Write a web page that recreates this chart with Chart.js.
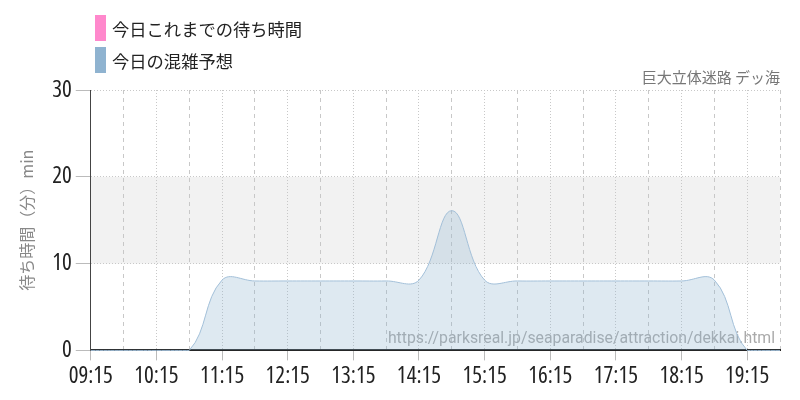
<!DOCTYPE html>
<html>
<head>
<meta charset="utf-8">
<script src="https://cdn.jsdelivr.net/npm/chart.js@4.4.1/dist/chart.umd.min.js"></script>
<style>
  html, body { margin: 0; padding: 0; background: #fff; }
  #wrap { position: relative; width: 800px; height: 400px; }
  #legend { position: absolute; left: 95px; top: 15px; font-family: 'Noto Sans CJK JP', sans-serif; font-size: 17.3px; color: #222; }
  .item { display: flex; align-items: center; height: 26px; margin-bottom: 6px; }
  .box { width: 11px; height: 26px; margin-right: 6px; }
</style>
</head>
<body>
<div id="wrap">
  <canvas id="waitChart" width="800" height="400"></canvas>
  <div id="legend"></div>
</div>
<script>
// 30分刻み
const times = ['09:15', '09:45', '10:15', '10:45', '11:15', '11:45', '12:15', '12:45',
               '13:15', '13:45', '14:15', '14:45', '15:15', '15:45', '16:15', '16:45',
               '17:15', '17:45', '18:15', '18:45', '19:15', '19:45'];
const forecast = [0, 0, 0, 0, 8.1, 8.0, 8.0, 8.0,
                  8.0, 8.0, 8.1, 16.1, 8.1, 8.0, 8.0, 8.0,
                  8.0, 8.0, 8.0, 8.1, 0, 0];
const waitedSoFar = [];
const seriesNames = ['今日これまでの待ち時間', '今日の混雑予想'];
const seriesColors = ['#ff88cc', '#8fb3d0'];
const yTicks = [0, 10, 20, 30];
const band = [10, 20];
const attractionName = '巨大立体迷路 デッ海';
const yTitle = '待ち時間（分）min';
const sourceUrl = 'https://parksreal.jp/seaparadise/attraction/dekkai.html';

// 細長い数字 (Open Sans の condensed 幅)
const numFont = { family: "'Open Sans', 'Roboto Condensed', sans-serif", size: 23, weight: 'normal condensed' };
const jpFont = "'Noto Sans CJK JP', sans-serif";

// 10〜20分の帯
const bandPlugin = {
    id: 'band',
    beforeDraw(chart) {
        const { ctx, chartArea, scales: { y } } = chart;
        const top = y.getPixelForValue(band[1]);
        const bottom = y.getPixelForValue(band[0]);
        ctx.save();
        ctx.fillStyle = '#f2f2f2';
        ctx.fillRect(chartArea.left, top, chartArea.right - chartArea.left, bottom - top);
        ctx.restore();
    }
};

const urlPlugin = {
    id: 'sourceUrl',
    beforeDatasetsDraw(chart) {
        const { ctx, chartArea } = chart;
        ctx.save();
        ctx.font = "15.8px Roboto, sans-serif";
        ctx.fillStyle = '#aaa';
        ctx.textAlign = 'right';
        ctx.textBaseline = 'alphabetic';
        ctx.fillText(sourceUrl, chartArea.right - 5, chartArea.bottom - 7);
        ctx.restore();
    }
};

const isHour = (i) => times[i] && times[i].endsWith(':15');

const chart = new Chart(document.getElementById('waitChart'), {
    type: 'line',
    data: {
        labels: times,
        datasets: [{
            label: seriesNames[0],
            data: waitedSoFar,
            borderColor: seriesColors[0],
            backgroundColor: seriesColors[0],
        }, {
            label: seriesNames[1],
            data: forecast,
            borderColor: '#a3c0d9',
            backgroundColor: 'rgba(143, 179, 208, 0.29)',
            borderWidth: 1,
            fill: 'origin',
            tension: 0.4,
            pointRadius: 0,
            clip: false,
        }],
    },
    options: {
        responsive: false,
        animation: false,
        layout: { padding: { top: 68, left: 17, right: 20, bottom: 8 } },
        plugins: {
            legend: { display: false },
            tooltip: { enabled: false },
            title: {
                display: true,
                align: 'end',
                text: attractionName,
                color: '#777',
                font: { family: jpFont, size: 15, weight: 'normal' },
                padding: { top: 0, bottom: 4 }
            }
        },
        scales: {
            x: {
                offset: false,
                border: {
                    color: '#222',
                    width: 2,
                    dash: (c) => (isHour(c.index) ? [1, 2] : [4, 4])
                },
                grid: {
                    color: '#c8c8c8',
                    tickColor: (c) => (isHour(c.index) ? '#bbb' : 'rgba(0,0,0,0)'),
                    tickLength: 10
                },
                ticks: {
                    autoSkip: false,
                    maxRotation: 0,
                    padding: 2,
                    color: '#222',
                    font: numFont,
                    callback: (v, i) => (isHour(i) ? times[i] : '')
                }
            },
            y: {
                min: yTicks[0],
                max: yTicks[yTicks.length - 1],
                border: { color: '#444', width: 1, dash: [1, 2] },
                grid: { color: '#c8c8c8', tickColor: '#bbb', tickLength: 15 },
                ticks: {
                    stepSize: 10,
                    padding: 4,
                    color: '#222',
                    font: numFont
                },
                title: {
                    display: true,
                    text: yTitle,
                    color: '#888',
                    font: { family: jpFont, size: 16 },
                    padding: { top: 0, bottom: 12 }
                }
            }
        }
    },
    plugins: [bandPlugin, urlPlugin]
});

// 縦並びの凡例
document.getElementById('legend').innerHTML = chart.data.datasets.map((d, i) =>
    '<div class="item"><span class="box" style="background:' + seriesColors[i] + '"></span>' + d.label + '</div>'
).join('');
</script>
</body>
</html>
